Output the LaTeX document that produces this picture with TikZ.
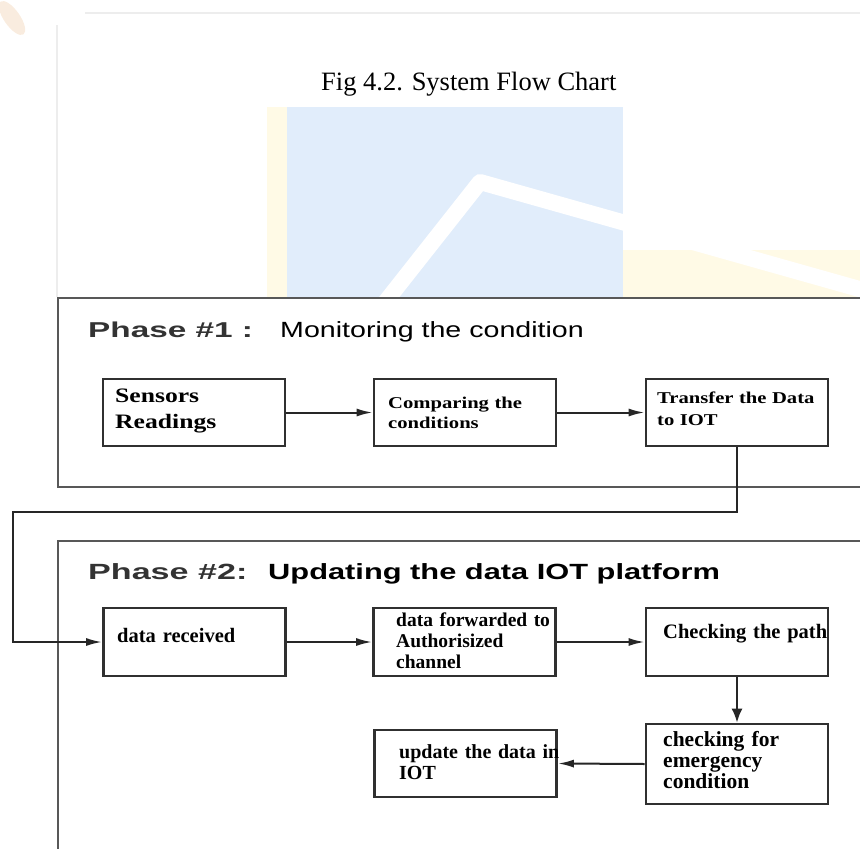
\documentclass[tikz,border=0pt]{standalone}
\usepackage{fontspec}
\setmainfont{Liberation Serif}
\newfontfamily\phasefont[FakeStretch=1.55]{Liberation Sans}
\newfontfamily\headfont[FakeStretch=1.4]{Liberation Sans}
\newfontfamily\monfont[FakeStretch=1.3]{Liberation Sans}
\newfontfamily\widefont[FakeStretch=1.25]{Liberation Serif}
\usetikzlibrary{arrows.meta}

\definecolor{wmblue}{RGB}{225,237,251}
\definecolor{wmyellow}{RGB}{255,250,230}
\definecolor{framegray}{RGB}{88,88,88}
\definecolor{boxgray}{RGB}{48,48,48}

\tikzset{
  phaseframe/.style={draw=framegray, line width=2.6pt, fill=white},
  stepbox/.style={draw=boxgray, line width=2.8pt, minimum width=182pt, minimum height=67pt, inner sep=0pt},
  steptext/.style={anchor=base west, inner sep=0pt, text width=200pt, align=left},
  wide/.style={font={\widefont\bfseries\fontsize{16.5}{#1}\selectfont}},
  plain/.style={font={\bfseries\fontsize{20.5}{21}\selectfont}},
  flow/.style={draw=black!85, line width=2pt, -{Latex[length=16pt,width=8pt]}},
}

\begin{document}
\begin{tikzpicture}[x=1pt,y=-1pt]
\useasboundingbox (0,0) rectangle (860,849);
\clip (0,0) rectangle (860,849);

% faint page edge and logo behind the chart
\fill[brown!60!orange, opacity=.15, rotate around={-55:(12,18)}] (12,18) ellipse (20pt and 8pt);
\draw[black!7, line width=1.2pt] (85,13) -- (860,13);
\draw[black!7, line width=1.2pt] (57,25) -- (57,297);
\fill[wmyellow] (267,107) rectangle (287,297);
\fill[wmblue] (287,107) rectangle (623,297);
\fill[wmyellow] (623,250) rectangle (860,297);
\draw[white, line width=16pt, line join=round] (383,305) -- (480,182) -- (870,292);

% caption
\node[anchor=base west, inner sep=0pt, font=\fontsize{26.5}{30}\selectfont] (caption) at (321,90) {Fig 4.2. System Flow Chart};

% the two phases
\draw[phaseframe] (58,298) rectangle (900,487);
\draw[phaseframe] (58,541) rectangle (900,900);

\node[anchor=base west, inner sep=0pt, text=black!80, font={\phasefont\bfseries\fontsize{21.5}{24}\selectfont}] (phaseone) at (88,337) {Phase \#1 :};
\node[anchor=base west, inner sep=0pt, font={\monfont\fontsize{22}{24}\selectfont}] (phaseonetitle) at (280,337) {Monitoring the condition};
\node[anchor=base west, inner sep=0pt, text=black!80, font={\phasefont\bfseries\fontsize{22}{24}\selectfont}] (phasetwo) at (88,579) {Phase \#2:};
\node[anchor=base west, inner sep=0pt, font={\headfont\bfseries\fontsize{22}{24}\selectfont}] (phasetwotitle) at (268,579) {Updating the data IOT platform};

% phase 1 steps
\node[stepbox] (sensors) at (194,412.5) {};
\node[stepbox] (compare) at (465,412.5) {};
\node[stepbox] (transfer) at (737,412.5) {};
\node[steptext, font={\widefont\bfseries\fontsize{20.5}{26}\selectfont}] (sensorslbl) at (115,402) {Sensors\\Readings};
\node[steptext, wide=20] (comparelbl) at (388,408) {Comparing the\\conditions};
\node[steptext, wide=22] (transferlbl) at (657,403) {Transfer the Data\\to IOT};

% phase 2 steps
\node[stepbox, minimum height=68pt] (received) at (194.5,642) {};
\node[stepbox, minimum height=68pt] (forward) at (464.5,642) {};
\node[stepbox, minimum height=68pt] (path) at (737,642) {};
\node[stepbox, minimum height=80pt] (emergency) at (737,764) {};
\node[stepbox] (update) at (465.5,763.5) {};
\node[steptext, plain] (receivedlbl) at (117,642) {data received};
\node[steptext, font={\bfseries\fontsize{19.5}{21}\selectfont}] (forwardlbl) at (396,626) {data forwarded to\\Authorisized\\channel};
\node[steptext, plain] (pathlbl) at (663,638) {Checking the path};
\node[steptext, font={\bfseries\fontsize{21.5}{21}\selectfont}] (emergencylbl) at (663,746) {checking for\\emergency\\condition};
\node[steptext, font={\bfseries\fontsize{20}{21}\selectfont}] (updatelbl) at (399,758) {update the data in\\IOT};

% connectors
\coordinate (turnleft) at (13,512);
\draw[flow] (sensors) -- (compare);
\draw[flow] (compare) -- (transfer);
\draw[flow] (transfer.south) |- (turnleft) |- (received.west);
\draw[flow] (received) -- (forward);
\draw[flow] (forward) -- (path);
\draw[flow, -{Latex[length=14pt,width=11pt]}] (path) -- (emergency);
\draw[flow] (emergency.west) -- (update.east);
\end{tikzpicture}
\end{document}
